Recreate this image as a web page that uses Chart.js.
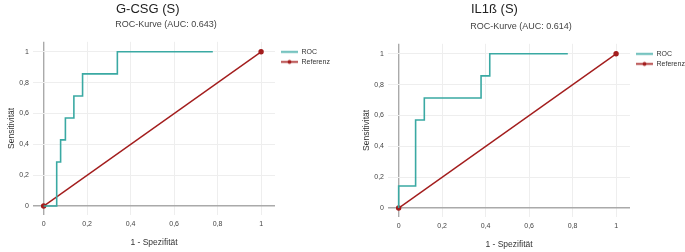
<!DOCTYPE html>
<html>
<head>
<meta charset="utf-8">
<script src="https://cdn.jsdelivr.net/npm/chart.js@4/dist/chart.umd.min.js"></script>
<style>
  body { margin: 0; width: 685px; height: 252px; overflow: hidden; background: #fff; position: relative;
         font-family: 'Liberation Sans', Arial, sans-serif; }
  .box { position: absolute; width: 340px; height: 252px; }
  .head { position: absolute; left: 116px; top: 1px; font-size: 13px; color: #222; white-space: nowrap; }
</style>
</head>
<body>
<div class="box" style="left:0;top:0"><canvas id="c1" width="340" height="252"></canvas><div class="head">G-CSG (S)</div></div>
<div class="box" style="left:355px;top:2px"><canvas id="c2" width="340" height="252"></canvas><div class="head" style="top:-1px">IL1ß (S)</div></div>
<script>
const tickValues = [0, 0.2, 0.4, 0.6, 0.8, 1];
const seriesNames = ['ROC', 'Referenz'];

const gcsgFpr = [0, 0.06, 0.078, 0.1, 0.139, 0.179, 0.339, 0.778];
const gcsgTpr = [0, 0.286, 0.429, 0.571, 0.714, 0.857, 1, 1];

const il1bFpr = [0, 0, 0.078, 0.118, 0.379, 0.419, 0.778];
const il1bTpr = [0, 0.143, 0.571, 0.714, 0.857, 1, 1];

const refX = [0, 1];
const refY = [0, 1];

const teal = '#3aa9a3';
const darkRed = '#a31d1d';

// little line (+dot) images for the legend
function legendIcon(color, dot) {
  const c = document.createElement('canvas');
  c.width = 20; c.height = 7;
  const g = c.getContext('2d');
  g.strokeStyle = color; g.lineWidth = 1.6;
  g.beginPath(); g.moveTo(3, 3.5); g.lineTo(20, 3.5); g.stroke();
  if (dot) {
    g.fillStyle = color;
    g.beginPath(); g.arc(11.5, 3.5, 2, 0, Math.PI * 2); g.fill();
  }
  return c;
}
const icons = [legendIcon(teal, false), legendIcon(darkRed, true)];

const fmt = v => String(v).replace('.', ',');

function makeChart(id, subtitle, fpr, tpr) {
  const roc = fpr.map((x, i) => ({ x: x, y: tpr[i] }));
  const ref = refX.map((x, i) => ({ x: x, y: refY[i] }));
  new Chart(document.getElementById(id), {
    type: 'scatter',
    data: {
      datasets: [{
        label: seriesNames[0],
        data: roc,
        showLine: true,
        stepped: 'before',
        borderColor: teal,
        borderWidth: 1.6,
        pointRadius: 0
      }, {
        label: seriesNames[1],
        data: ref,
        showLine: true,
        borderColor: darkRed,
        backgroundColor: darkRed,
        borderWidth: 1.4,
        pointRadius: 2
      }]
    },
    options: {
      responsive: false,
      animation: false,
      layout: { padding: { top: 17, right: 8 } },
      plugins: {
        title: {
          display: true,
          text: subtitle,
          color: '#444',
          font: { family: 'Liberation Sans', size: 9, weight: 'normal' },
          padding: { top: 2, bottom: 12 }
        },
        legend: {
          position: 'right',
          align: 'start',
          maxWidth: 57,
          title: { display: true, text: ' ', font: { size: 7 }, padding: { top: 20, bottom: 0 } },
          labels: {
            usePointStyle: true,
            pointStyleWidth: 20,
            boxHeight: 7,
            padding: 3,
            color: '#333',
            font: { family: 'Liberation Sans', size: 7 },
            generateLabels: chart => Chart.defaults.plugins.legend.labels.generateLabels(chart)
              .map((l, i) => Object.assign(l, { pointStyle: icons[i] }))
          }
        },
        tooltip: { enabled: false }
      },
      scales: {
        x: {
          type: 'linear',
          min: -0.049,
          max: 1.064,
          afterBuildTicks: s => { s.ticks = tickValues.map(v => ({ value: v })); },
          afterFit: s => { s.height = 37; },
          border: { display: false },
          grid: {
            drawTicks: false,
            color: c => c.tick && c.tick.value === 0 ? '#aaa' : '#eee',
            lineWidth: c => c.tick && c.tick.value === 0 ? 1.4 : 1
          },
          ticks: { color: '#444', padding: 5, font: { family: 'Liberation Sans', size: 7 }, callback: v => fmt(v) },
          title: { display: true, text: '1 - Spezifität', color: '#333', padding: { top: 8 },
                   font: { family: 'Liberation Sans', size: 8.5 } }
        },
        y: {
          type: 'linear',
          min: -0.058,
          max: 1.065,
          afterBuildTicks: s => { s.ticks = tickValues.map(v => ({ value: v })); },
          afterFit: s => { s.width = 33; },
          border: { display: false },
          grid: {
            drawTicks: false,
            color: c => c.tick && c.tick.value === 0 ? '#aaa' : '#eee',
            lineWidth: c => c.tick && c.tick.value === 0 ? 1.4 : 1
          },
          ticks: { color: '#444', padding: 4, font: { family: 'Liberation Sans', size: 7 }, callback: v => fmt(v) },
          title: { display: true, text: 'Sensitivität', color: '#333', padding: { top: 7, bottom: 0 },
                   font: { family: 'Liberation Sans', size: 8.5 } }
        }
      }
    }
  });
}

makeChart('c1', 'ROC-Kurve (AUC: 0.643)', gcsgFpr, gcsgTpr);
makeChart('c2', 'ROC-Kurve (AUC: 0.614)', il1bFpr, il1bTpr);
</script>
</body>
</html>
